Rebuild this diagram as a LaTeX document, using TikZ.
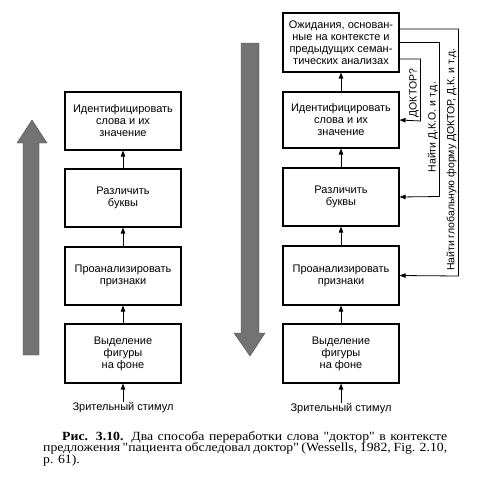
\documentclass[tikz,border=0pt]{standalone}
\usepackage{fontspec}
\usepackage{tikz}
\usetikzlibrary{arrows.meta}
\newfontfamily\boxfont{Liberation Sans}
\newfontfamily\capfont[FakeStretch=1.1]{Liberation Serif}
\tikzset{
    stage/.style={draw, line width=1.1pt, minimum width=116pt, minimum height=58pt,
        align=center, inner sep=2pt, font=\boxfont\fontsize{11pt}{12pt}\selectfont},
    stim/.style={inner sep=1pt, font=\boxfont\fontsize{11pt}{12pt}\selectfont},
    flow/.style={line width=0.8pt, -{Triangle[length=6pt,width=4.5pt]}},
    fb/.style={rotate=90, anchor=south, inner sep=1.5pt, font=\boxfont\fontsize{10.5pt}{12pt}\selectfont},
    bigarrow/.style={draw=black!70, line width=0.4pt, fill=black!55}
}
\begin{document}
\begin{tikzpicture}[x=1pt, y=-1pt]
    \useasboundingbox (0, 0) rectangle (490, 480);

    % bottom-up column
    \node[stage] at (123, 121) (idL) {Идентифицировать\\слова и их\\значение};
    \node[stage] at (123, 198) (letL) {Различить\\буквы};
    \node[stage] at (123, 276) (featL) {Проанализировать\\признаки};
    \node[stage, minimum height=59pt] at (123, 353.5) (figL) {Выделение\\фигуры\\на фоне};
    \node[stim] at (123, 408) (stimL) {Зрительный стимул};

    \draw[flow] (stimL) -- (figL);
    \draw[flow] (figL) -- (featL);
    \draw[flow] (featL) -- (letL);
    \draw[flow] (letL) -- (idL);

    % top-down column
    \node[stage, minimum height=59pt] at (341, 42.5) (expR) {Ожидания, основан-\\ные на контексте и\\предыдущих семан-\\тических анализах};
    \node[stage, minimum height=56pt] at (341, 120) (idR) {Идентифицировать\\слова и их\\значение};
    \node[stage] at (341, 197) (letR) {Различить\\буквы};
    \node[stage, minimum height=59pt] at (341, 275.5) (featR) {Проанализировать\\признаки};
    \node[stage, minimum height=59pt] at (341, 353.5) (figR) {Выделение\\фигуры\\на фоне};
    \node[stim] at (341, 409) (stimR) {Зрительный стимул};

    \draw[flow] (stimR) -- (figR);
    \draw[flow] (figR) -- (featR);
    \draw[flow] (featR) -- (letR);
    \draw[flow] (letR) -- (idR);
    \draw[flow] (idR) -- (expR);

    % feedback from expectations
    \draw[flow] ([yshift=13.5pt]expR.east) -- ++(59, 0)
        -- node[fb, pos=0.53] {Найти глобальную форму ДОКТОР, Д.К. и т.д.} ++(0, 247) -- (featR.east);
    \draw[flow] (expR.east) -- ++(40, 0)
        -- node[fb, pos=0.55] {Найти Д.К.О. и т.д.} ++(0, 154) -- (letR.east);
    \draw[flow] ([yshift=-16.5pt]expR.east) -- ++(21, 0)
        -- node[fb, pos=0.55] {ДОКТОР?} ++(0, 62) -- (idR.east);

    % direction arrows
    \draw[bigarrow] (23, 355) -- (23, 143) -- (17, 143) -- (32, 120) -- (47, 143)
        -- (39, 143) -- (39, 355) -- cycle;
    \draw[bigarrow] (241, 43) -- (241, 333) -- (234, 333) -- (250, 356) -- (265, 333)
        -- (259, 333) -- (259, 43) -- cycle;

    % caption, lines set by hand
    \node[anchor=north west, inner sep=0pt, align=left,
        font=\capfont\fontsize{12.5pt}{11.8pt}\selectfont] at (43, 431) (caption)
        {\hspace*{19pt}\makebox[385pt][s]{\textbf{Рис. 3.10.} Два способа переработки слова "доктор" в контексте}\\
        \makebox[404pt][s]{предложения "пациента обследовал доктор" (Wessells, 1982, Fig. 2.10,}\\
        p. 61).};
\end{tikzpicture}
\end{document}
